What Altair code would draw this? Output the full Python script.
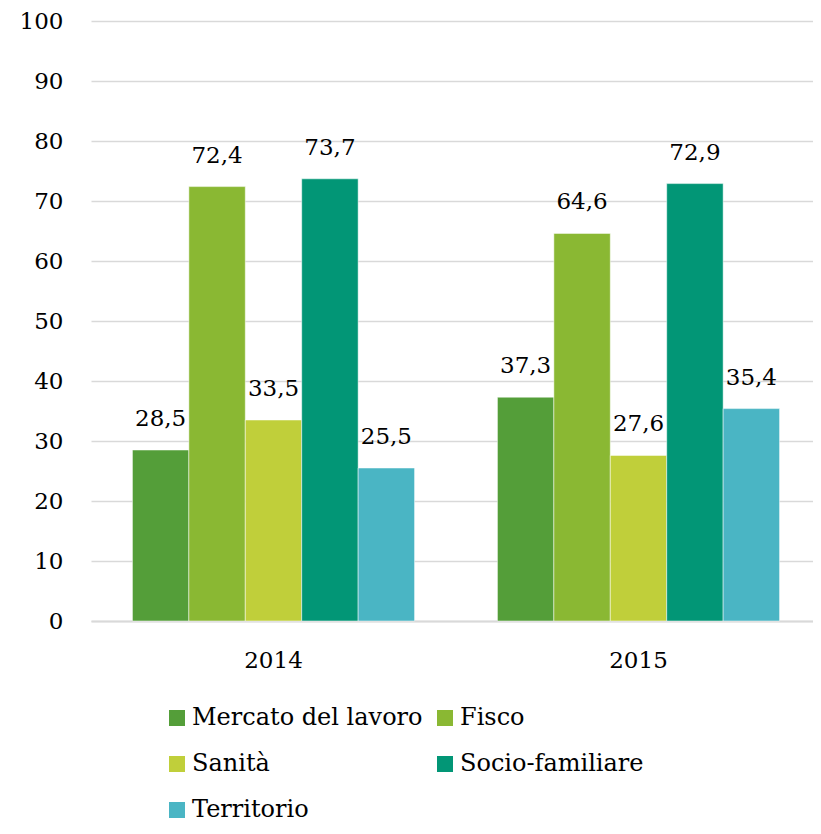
import altair as alt
import pandas as pd

years = ["2014", "2015"]
categories = ["Mercato del lavoro", "Fisco", "Sanità", "Socio-familiare", "Territorio"]
values_2014 = [28.5, 72.4, 33.5, 73.7, 25.5]
values_2015 = [37.3, 64.6, 27.6, 72.9, 35.4]
colors = ["#549E39", "#8AB833", "#C0CF3A", "#029676", "#4AB5C4"]
y_ticks = [0, 10, 20, 30, 40, 50, 60, 70, 80, 90, 100]
legend_order = ["Mercato del lavoro", "Sanità", "Territorio", "Fisco", "Socio-familiare"]

rows = []
for yr, vals in zip(years, [values_2014, values_2015]):
    for c, v in zip(categories, vals):
        rows.append({"anno": yr, "categoria": c, "valore": v,
                     "label": f"{v:.1f}".replace(".", ",")})
df = pd.DataFrame(rows)

FONT = "DejaVu Serif"
FS = 23
FS_LEG = 24

base = alt.Chart(df).encode(
    x=alt.X("anno:N", sort=years,
            scale=alt.Scale(range=[0, 730], paddingInner=0.227, paddingOuter=0.1135),
            axis=alt.Axis(title=None, labelAngle=0, labelFont=FONT, labelFontSize=FS,
                          labelColor="#000000", labelPadding=28, ticks=False,
                          domainColor="#d9d9d9", domainWidth=2)),
    xOffset=alt.XOffset("categoria:N", sort=categories,
                        scale=alt.Scale(paddingInner=0, paddingOuter=0)),
    y=alt.Y("valore:Q", scale=alt.Scale(domain=[0, 100], nice=False),
            axis=alt.Axis(title=None, values=y_ticks, labelFont=FONT, labelFontSize=FS,
                          labelColor="#000000", labelPadding=28, ticks=False, domain=False,
                          gridColor="#d9d9d9", gridWidth=1.5)),
)

bars = base.mark_bar(stroke="#ffffff", strokeWidth=0.5).encode(
    color=alt.Color("categoria:N", sort=categories,
                    scale=alt.Scale(domain=categories, range=colors),
                    legend=alt.Legend(title=None, orient="none", legendX=74, legendY=685,
                                      values=legend_order,
                                      columns=2, columnPadding=10, rowPadding=22,
                                      symbolType="square", symbolSize=256,
                                      symbolStrokeWidth=0, symbolOffset=0,
                                      labelFont=FONT, labelFontSize=FS_LEG, labelColor="#000000",
                                      labelOffset=3, labelLimit=400, padding=0))
)

labels = base.mark_text(font=FONT, fontSize=FS, color="#000000",
                        baseline="alphabetic", dy=-24).encode(text="label:N")

chart = (bars + labels).properties(
    width=722, height=600,
    autosize=alt.AutoSizeParams(type="none"),
    padding={"left": 83, "top": 13, "right": 0, "bottom": 205},
).configure_view(stroke=None).configure_axis(grid=True).configure_axisX(grid=False)

chart.save("out.html", embed_options={"renderer": "svg", "actions": False})
